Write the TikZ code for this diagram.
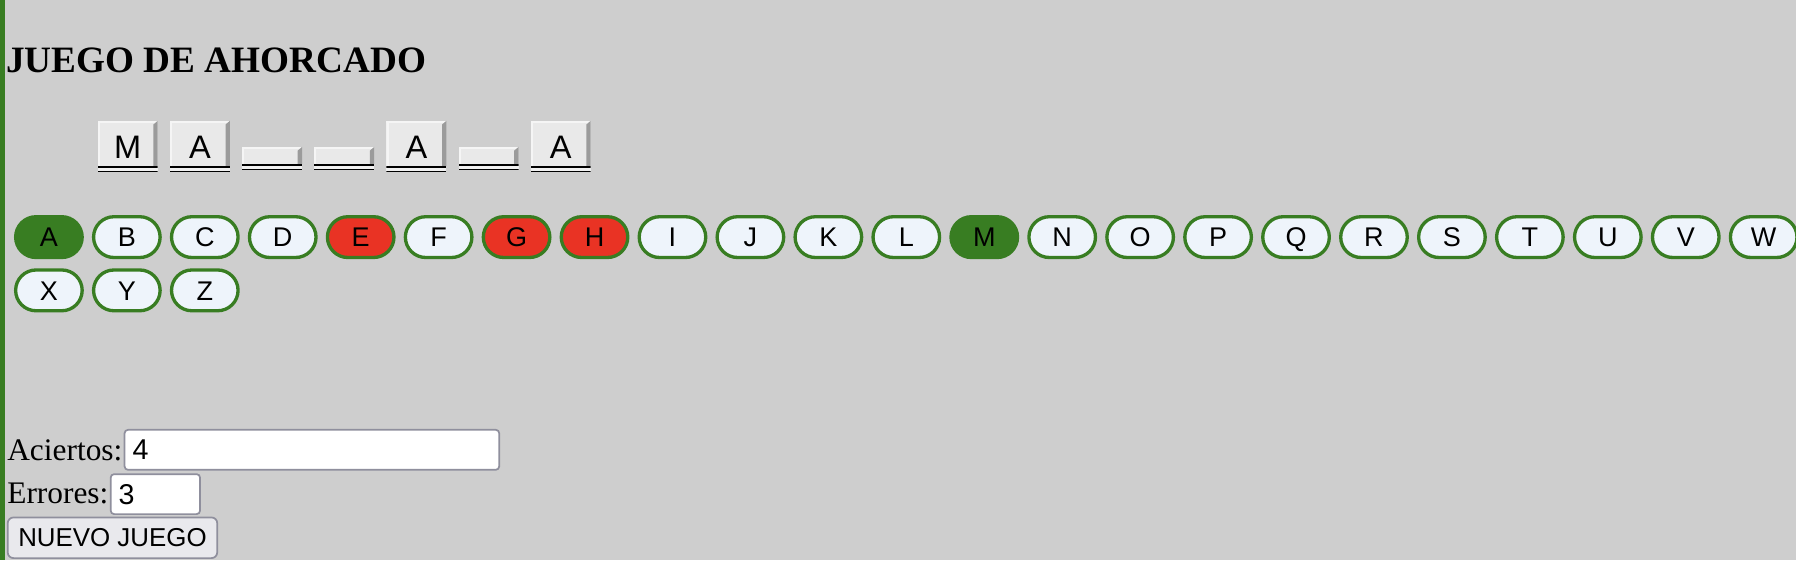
\documentclass[tikz,border=0pt]{standalone}
\usepackage{fontspec}
\setmainfont{Liberation Serif}
\setsansfont{Liberation Sans}
\usetikzlibrary{positioning}
\definecolor{pagebg}{RGB}{206,206,206}
\definecolor{okgreen}{RGB}{56,125,34}
\definecolor{failred}{RGB}{233,51,36}
\definecolor{pillfill}{RGB}{238,244,251}
\definecolor{tileface}{RGB}{233,233,233}
\definecolor{tilelight}{RGB}{245,245,245}
\definecolor{tilebevel}{RGB}{155,155,155}
\definecolor{tilegap}{RGB}{240,240,240}
\definecolor{fieldline}{RGB}{143,143,157}
\definecolor{btnfill}{RGB}{233,233,237}

\begin{document}
\begin{tikzpicture}[
    x=0.5pt, y=-0.5pt,
    node distance=4.975pt,
    pill/.style={draw=okgreen, line width=1.45pt, fill=pillfill, rounded corners=8.9pt, outer sep=0pt, inner sep=0pt, minimum width=29.05pt, minimum height=17.8pt, text height=8.45pt, text depth=0pt, font=\sffamily\fontsize{11.8}{12}\selectfont},
    pillhit/.style={pill, fill=okgreen},
    pillmiss/.style={pill, fill=failred},
    tilebase/.style={fill=tileface, inner sep=0pt, outer sep=0pt, minimum width=26.2pt, text height=10.2pt, text depth=0pt, font=\sffamily\fontsize{14.2}{15}\selectfont,
        path picture={
            \fill[tilelight] (path picture bounding box.north west) rectangle ([yshift=-1pt]path picture bounding box.north east);
            \fill[tilelight] (path picture bounding box.north west) rectangle ([xshift=1pt,yshift=2.85pt]path picture bounding box.south west);
            \fill[tilebevel] ([xshift=-1.9pt,yshift=-1.6pt]path picture bounding box.north east) -- (path picture bounding box.north east) -- ([yshift=2.85pt]path picture bounding box.south east) -- ([xshift=-1.9pt,yshift=2.85pt]path picture bounding box.south east) -- cycle;
            \fill[black] ([yshift=1.85pt]path picture bounding box.south west) rectangle ([yshift=2.85pt]path picture bounding box.south east);
            \fill[tilegap] ([yshift=0.75pt]path picture bounding box.south west) rectangle ([yshift=1.85pt]path picture bounding box.south east);
            \fill[black] (path picture bounding box.south west) rectangle ([yshift=0.75pt]path picture bounding box.south east);
        }},
    tile/.style={tilebase, minimum height=22.5pt},
    blanktile/.style={tilebase, minimum height=6.1pt},
    heading/.style={inner sep=0pt, anchor=base west, font=\bfseries\fontsize{16.25}{19}\selectfont},
    caption/.style={inner sep=0pt, anchor=base west, font=\fontsize{13.7}{16}\selectfont},
    field/.style={draw=fieldline, line width=0.75pt, fill=white, rounded corners=1.5pt, outer sep=0pt, inner xsep=3.5pt, inner ysep=0pt, minimum height=17.45pt, align=left, font=\sffamily\fontsize{12.5}{13}\selectfont},
    btn/.style={draw=fieldline, line width=0.75pt, fill=btnfill, rounded corners=2.5pt, outer sep=0pt, inner sep=0pt, minimum width=91.45pt, minimum height=17.75pt, font=\sffamily\fontsize{11.3}{12}\selectfont}
]
% page
\useasboundingbox (0,0) rectangle (1568,489);
\fill[pagebg] (0,0) rectangle (1568,489);
\fill[okgreen] (0,0) rectangle (4.5,489);

\node[heading] (title) at (5,63.4) {JUEGO DE AHORCADO};

% word
\node[tile] (w1) at (111.5,128) {M};
\node[tile] (w2) at (174.5,128) {A};
\node[blanktile] (w3) at (237.5,138.5) {};
\node[blanktile] (w4) at (300.5,138.5) {};
\node[tile] (w5) at (363.5,128) {A};
\node[blanktile] (w6) at (426.5,138.5) {};
\node[tile] (w7) at (489.5,128) {A};

% letters
\node[pillhit] (kA) at (42.7,207) {A};
\node[pill, right=of kA] (kB) {B};
\node[pill, right=of kB] (kC) {C};
\node[pill, right=of kC] (kD) {D};
\node[pillmiss, right=of kD] (kE) {E};
\node[pill, right=of kE] (kF) {F};
\node[pillmiss, right=of kF] (kG) {G};
\node[pillmiss, right=of kG] (kH) {H};
\node[pill, right=of kH] (kI) {I};
\node[pill, right=of kI] (kJ) {J};
\node[pill, right=of kJ] (kK) {K};
\node[pill, right=of kK] (kL) {L};
\node[pillhit, right=of kL] (kM) {M};
\node[pill, right=of kM] (kN) {N};
\node[pill, right=of kN] (kO) {O};
\node[pill, right=of kO] (kP) {P};
\node[pill, right=of kP] (kQ) {Q};
\node[pill, right=of kQ] (kR) {R};
\node[pill, right=of kR] (kS) {S};
\node[pill, right=of kS] (kT) {T};
\node[pill, right=of kT] (kU) {U};
\node[pill, right=of kU] (kV) {V};
\node[pill, right=of kV] (kW) {W};
\node[pill, below=5.45pt of kA] (kX) {X};
\node[pill, right=of kX] (kY) {Y};
\node[pill, right=of kY] (kZ) {Z};

% score
\node[caption] (hitslabel) at (6,401.6) {Aciertos:};
\node[field, text width=156.55pt] (hitsbox) at (272.3,392.7) {4};
\node[caption] (misslabel) at (6,440) {Errores:};
\node[field, text width=32pt] (missbox) at (135.65,431.4) {3};
\node[btn] (newgame) at (98.2,469.5) {NUEVO JUEGO};

\end{tikzpicture}
\end{document}
